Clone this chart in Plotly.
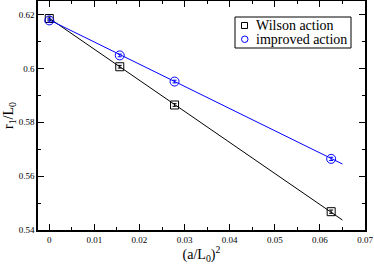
import plotly.graph_objects as go

# data
x_vals = [0.0, 0.015625, 0.027778, 0.0625]
wilson = [0.6185, 0.6006, 0.5864, 0.5468]
wilson_err = [0.0006, 0.0005, 0.0005, 0.0006]
improved = [0.6178, 0.6048, 0.5951, 0.5664]
improved_err = [0.0006, 0.0005, 0.0005, 0.0006]
fit_x = [0.0, 0.065]
wilson_fit = [0.6186, 0.5437]
improved_fit = [0.6180, 0.5645]
legend_labels = ["Wilson action", "improved action"]

BLUE = "#0000ff"
FONT = "Liberation Serif, Times New Roman, serif"

W, H = 374, 264
ML, MR, MT, MB = 38, 9, 1, 34
PW, PH = W - ML - MR, H - MT - MB


def px_x(p):
    return (p - ML) / PW


def px_y(p):
    return (H - MB - p) / PH


fig = go.Figure()
fig.add_trace(go.Scatter(x=fit_x, y=wilson_fit, mode="lines",
                         line=dict(color="black", width=1), showlegend=False, hoverinfo="skip"))
fig.add_trace(go.Scatter(x=fit_x, y=improved_fit, mode="lines",
                         line=dict(color=BLUE, width=1), showlegend=False, hoverinfo="skip"))
fig.add_trace(go.Scatter(x=x_vals, y=wilson, mode="markers", name=legend_labels[0], showlegend=False,
                         marker=dict(symbol="square-open", size=8, color="black", line=dict(width=1)),
                         error_y=dict(type="data", array=wilson_err, color="black", thickness=1, width=2)))
fig.add_trace(go.Scatter(x=x_vals, y=improved, mode="markers", name=legend_labels[1], showlegend=False,
                         marker=dict(symbol="circle-open", size=9, color=BLUE, line=dict(width=1)),
                         error_y=dict(type="data", array=improved_err, color=BLUE, thickness=1, width=2)))

axis_common = dict(showline=True, linecolor="black", linewidth=1.5, mirror="allticks",
                   ticks="inside", ticklen=6, tickcolor="black", tickwidth=1,
                   showgrid=False, zeroline=False, automargin=False,
                   tickfont=dict(family=FONT, size=9, color="black"))

fig.update_xaxes(range=[-0.0025, 0.07], dtick=0.01, tick0=0,
                 minor=dict(ticks="inside", dtick=0.005, ticklen=3, tickcolor="black"),
                 title=dict(text="(a/L<sub>0</sub>)<sup>2</sup>", font=dict(family=FONT, size=14, color="black"),
                            standoff=1),
                 **axis_common)
fig.update_yaxes(range=[0.54, 0.625], dtick=0.02, tick0=0.54,
                 minor=dict(ticks="inside", dtick=0.01, ticklen=3, tickcolor="black"),
                 title=dict(text="r<sub>1</sub>/L<sub>0</sub>", font=dict(family=FONT, size=14, color="black"),
                            standoff=2),
                 **axis_common)

# custom legend (box, symbols, labels)
shapes = [
    dict(type="rect", xref="paper", yref="paper", x0=px_x(235), x1=px_x(351), y0=px_y(48), y1=px_y(17),
         line=dict(color="black", width=1), fillcolor="white", layer="above"),
    dict(type="rect", xref="paper", yref="paper", x0=px_x(241.5), x1=px_x(247.5), y0=px_y(28.5), y1=px_y(22.5),
         line=dict(color="black", width=1), layer="above"),
    dict(type="circle", xref="paper", yref="paper", x0=px_x(241.5), x1=px_x(248), y0=px_y(42.5), y1=px_y(36),
         line=dict(color=BLUE, width=1), layer="above"),
]
annotations = [
    dict(text=legend_labels[0], xref="paper", yref="paper", x=px_x(254), y=px_y(25.5), xanchor="left",
         yanchor="middle", showarrow=False, font=dict(family=FONT, size=14, color="black")),
    dict(text=legend_labels[1], xref="paper", yref="paper", x=px_x(254), y=px_y(39.5), xanchor="left",
         yanchor="middle", showarrow=False, font=dict(family=FONT, size=14, color="black")),
]

fig.update_layout(
    width=W, height=H,
    margin=dict(l=ML, r=MR, t=MT, b=MB),
    plot_bgcolor="white", paper_bgcolor="white",
    showlegend=False,
    shapes=shapes, annotations=annotations,
)

fig.write_html("out.html", config={"displayModeBar": False},
               post_script="document.body.style.margin='0';")
